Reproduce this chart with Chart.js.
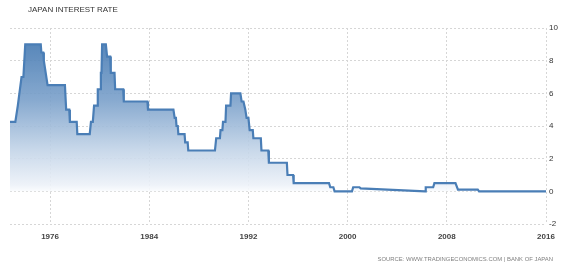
<!DOCTYPE html>
<html>
<head>
<meta charset="utf-8">
<script src="https://cdn.jsdelivr.net/npm/chart.js@4"></script>
<style>
  body { margin: 0; background: #fff; }
  #wrap { position: relative; width: 565px; height: 271px; }
  #title { position: absolute; left: 28px; top: 5px; font: 8px "Liberation Sans", Arial, sans-serif; color: #333; }
  #source { position: absolute; right: 12px; top: 256px; font: 5.9px "Liberation Sans", Arial, sans-serif; color: #808080; }
</style>
</head>
<body>
<div id="wrap">
  <canvas id="rateChart"></canvas>
  <div id="title">JAPAN INTEREST RATE</div>
  <div id="source">SOURCE: WWW.TRADINGECONOMICS.COM | BANK OF JAPAN</div>
</div>
<script>
// điểm gãy của đường lãi suất (năm, %)
const years = [
    1972.77, 1973.2, 1973.4, 1973.7, 1973.85, 1974.0,
    1975.25, 1975.3, 1975.45, 1975.5, 1975.6, 1975.8,
    1977.2, 1977.3, 1977.55, 1977.6, 1978.15, 1978.2,
    1979.2, 1979.3, 1979.45, 1979.55, 1979.8, 1979.85, 1980.05, 1980.1, 1980.15, 1980.2,
    1980.5, 1980.6, 1980.85, 1980.9, 1981.2, 1981.25, 1981.9, 1981.95,
    1983.85, 1983.9, 1985.95, 1986.05, 1986.15, 1986.2, 1986.3, 1986.35, 1986.85, 1986.9, 1987.1, 1987.15,
    1989.3, 1989.4, 1989.7, 1989.75, 1989.9, 1989.95, 1990.15, 1990.2, 1990.55, 1990.6,
    1991.35, 1991.45, 1991.6, 1991.75, 1991.85, 1992.0, 1992.1, 1992.35, 1992.4,
    1993.0, 1993.05, 1993.6, 1993.65, 1995.1, 1995.15, 1995.6, 1995.65,
    1998.5, 1998.6, 1998.85, 1998.95,
    2000.35, 2000.45, 2000.95, 2001.05, 2006.25, 2006.3, 2006.9, 2007.0,
    2008.7, 2008.8, 2008.9, 2010.5, 2010.6, 2016.0
];
const rates = [
    4.25, 4.25, 5.25, 7.0, 7.0, 9.0,
    9.0, 8.5, 8.5, 8.0, 7.5, 6.5,
    6.5, 5.0, 5.0, 4.25, 4.25, 3.5,
    3.5, 4.25, 4.25, 5.25, 5.25, 6.25, 6.25, 7.25, 7.25, 9.0,
    9.0, 8.25, 8.25, 7.25, 7.25, 6.25, 6.25, 5.5,
    5.5, 5.0, 5.0, 4.5, 4.5, 4.0, 4.0, 3.5, 3.5, 3.0, 3.0, 2.5,
    2.5, 3.25, 3.25, 3.75, 3.75, 4.25, 4.25, 5.25, 5.25, 6.0,
    6.0, 5.5, 5.5, 5.0, 4.5, 4.5, 3.75, 3.75, 3.25,
    3.25, 2.5, 2.5, 1.75, 1.75, 1.0, 1.0, 0.5,
    0.5, 0.25, 0.25, 0.0,
    0.0, 0.25, 0.25, 0.18, 0.0, 0.25, 0.25, 0.5,
    0.5, 0.3, 0.1, 0.1, 0.0, 0.0
];
const tickYears = [1976, 1984, 1992, 2000, 2008, 2016];
const yTicks = [-2, 0, 2, 4, 6, 8, 10];

const fontFamily = '"Liberation Sans", Arial, sans-serif';

// tô màu chuyển dần từ xanh đậm xuống trắng
function fillGradient(context) {
    const chart = context.chart;
    const area = chart.chartArea;
    if (!area) return null;
    const bottom = chart.scales.y.getPixelForValue(0);
    const g = chart.ctx.createLinearGradient(0, area.top, 0, bottom);
    g.addColorStop(0, "rgba(62,112,170,0.93)");
    g.addColorStop(0.1, "rgba(74,125,180,0.92)");
    g.addColorStop(0.44, "rgba(122,160,202,0.9)");
    g.addColorStop(0.74, "rgba(193,211,231,0.9)");
    g.addColorStop(0.96, "rgba(236,241,248,0.9)");
    g.addColorStop(1, "rgba(250,252,254,0.9)");
    return g;
}

const ctx = document.getElementById("rateChart").getContext("2d");
const rateChart = new Chart(ctx, {
    type: "line",
    data: {
        datasets: [
            {
                label: "Japan Interest Rate",
                data: years.map((y, i) => ({ x: y, y: rates[i] })),
                borderColor: "#4a7eb6",
                borderWidth: 2.2,
                backgroundColor: fillGradient,
                fill: "origin",
                pointRadius: 0,
                tension: 0,
            },
        ],
    },
    options: {
        responsive: true,
        maintainAspectRatio: false,
        animation: false,
        layout: { padding: { left: 10, top: 28, right: 0, bottom: 0 } },
        plugins: { legend: { display: false }, tooltip: { enabled: false } },
        scales: {
            x: {
                type: "linear",
                min: years[0],
                max: 2016,
                afterBuildTicks: (scale) => {
                    scale.ticks = tickYears.map((v) => ({ value: v }));
                },
                afterFit: (scale) => { scale.height = 47; },
                grid: { color: "#d6d6d6", drawTicks: false },
                border: { display: false, dash: [2, 2] },
                ticks: {
                    padding: 8,
                    color: "#444",
                    font: { family: fontFamily, size: 8, weight: "bold" },
                    maxRotation: 0,
                    callback: (v) => String(v),
                },
            },
            y: {
                position: "right",
                min: -2,
                max: 10,
                afterBuildTicks: (scale) => {
                    scale.ticks = yTicks.map((v) => ({ value: v }));
                },
                afterFit: (scale) => { scale.width = 19; },
                grid: { color: "#d6d6d6", drawTicks: false },
                border: { display: false, dash: [2, 2] },
                ticks: {
                    padding: 3,
                    color: "#333",
                    font: { family: fontFamily, size: 8 },
                    callback: (v) => String(v),
                },
            },
        },
    },
});
</script>
</body>
</html>
